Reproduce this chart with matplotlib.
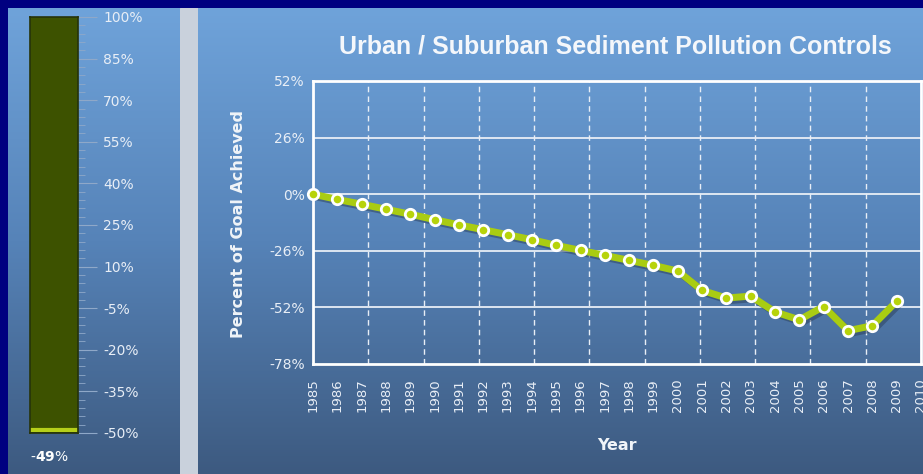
import matplotlib
matplotlib.use("Agg")
import matplotlib.pyplot as plt
import numpy as np
from matplotlib.colors import LinearSegmentedColormap
from matplotlib.patches import Rectangle

# data
years = list(range(1985, 2010))
percent = [0, -2.4, -4.6, -6.9, -9.2, -11.7, -14.1, -16.3, -18.6, -20.9,
           -23.5, -25.8, -28.1, -30.4, -32.7, -35.3, -44.2, -47.7, -46.8,
           -54.1, -57.7, -51.6, -62.7, -60.4, -49.2]
year_ticks = list(range(1985, 2011))
y_ticks = [52, 26, 0, -26, -52, -78]
gauge_ticks = [100, 85, 70, 55, 40, 25, 10, -5, -20, -35, -50]
current_value = -49

W, H = 923, 474
fig = plt.figure(figsize=(W / 100, H / 100), dpi=100)
fig.patch.set_facecolor("#000080")

grad = LinearSegmentedColormap.from_list("panel", ["#6fa3da", "#5683b8", "#3d5a80"])


def px_axes(x0, y0, x1, y1, **kw):
    return fig.add_axes([x0 / W, 1 - y1 / H, (x1 - x0) / W, (y1 - y0) / H], **kw)


def gradient_panel(x0, y0, x1, y1):
    ax = px_axes(x0, y0, x1, y1)
    ax.imshow(np.linspace(0, 1, 256).reshape(-1, 1), aspect="auto", cmap=grad,
              extent=[0, 1, 0, 1])
    ax.set_axis_off()
    return ax


# background panels
gradient_panel(8, 8, 180, H)
gradient_panel(198, 8, W, H)
strip = px_axes(180, 8, 198, H)
strip.add_patch(Rectangle((0, 0), 1, 1, color="#c9d1dc"))
strip.set_xlim(0, 1)
strip.set_ylim(0, 1)
strip.set_axis_off()

# gauge on the left
gax = px_axes(30, 17, 78, 433)
gax.set_facecolor("#3d5200")
gax.set_xlim(0, 1)
gax.set_ylim(-50, 100)
gax.axhline(current_value, xmin=0.05, xmax=0.95, color="#b5cf1a", lw=3)
for s in gax.spines.values():
    s.set_color("#26330a")
    s.set_linewidth(1.2)
gax.set_xticks([])
gax.yaxis.tick_right()
gax.set_yticks(gauge_ticks)
gax.set_yticklabels([f"{v}%" for v in gauge_ticks])
gax.set_yticks(np.arange(-50, 101, 3), minor=True)
gax.tick_params(axis="y", which="major", length=14, width=0.8, color="#8fa8c8",
                labelcolor="#e8eef6", labelsize=10, pad=4)
gax.tick_params(axis="y", which="minor", length=5, width=0.6, color="#8fa8c8")
fig.text(30 / W, 1 - 457 / H, r"-$\mathbf{49}$%", color="white", fontsize=10,
         va="center")

# main chart
ax = px_axes(313, 81, 921, 364)
ax.set_facecolor("none")
ax.set_xlim(1985, 2010)
ax.set_ylim(-78, 52)
for s in ax.spines.values():
    s.set_color("white")
    s.set_linewidth(2)
for v in [26, 0, -26, -52]:
    ax.axhline(v, color="#e8eef6", lw=1.3, zorder=1)
for k in range(1, 11):
    ax.axvline(1985 + k * 25 / 11, color="#e8eef6", lw=1, ls=(0, (4, 3)), zorder=1)

yrs = np.array(years)
vals = np.array(percent)
ax.plot(yrs + 0.12, vals - 1.2, color="#2b3f5a", lw=5, alpha=0.5, zorder=2,
        solid_capstyle="round")
ax.plot(yrs, vals, color="#a9cc12", lw=5, zorder=3, solid_joinstyle="round")
ax.plot(yrs, vals, ls="none", marker="o", ms=7.5, mfc="#b7d30a", mec="white",
        mew=2, zorder=4, clip_on=False)

ax.set_xticks(year_ticks)
ax.set_xticklabels([str(y) for y in year_ticks], rotation=90)
ax.set_yticks(y_ticks)
ax.set_yticklabels([f"{v}%" for v in y_ticks])
ax.tick_params(axis="both", length=0, labelcolor="#e8eef6")
ax.tick_params(axis="x", pad=10, labelsize=9.5)
ax.tick_params(axis="y", pad=6, labelsize=10)

fig.text(238 / W, 1 - 224 / H, "Percent of Goal Achieved", rotation=90,
         color="#f0f4f8", fontsize=11.5, fontweight="bold", ha="center", va="center")
fig.text(617 / W, 1 - 445 / H, "Year", color="#f0f4f8", fontsize=11.5,
         fontweight="bold", ha="center", va="center")
fig.text(615 / W, 1 - 46 / H, "Urban / Suburban Sediment Pollution Controls",
         color="#f4f7fb", fontsize=18, fontweight="bold", ha="center",
         va="center", family="Liberation Sans")

fig.savefig("out.png", dpi=100, facecolor=fig.get_facecolor())
